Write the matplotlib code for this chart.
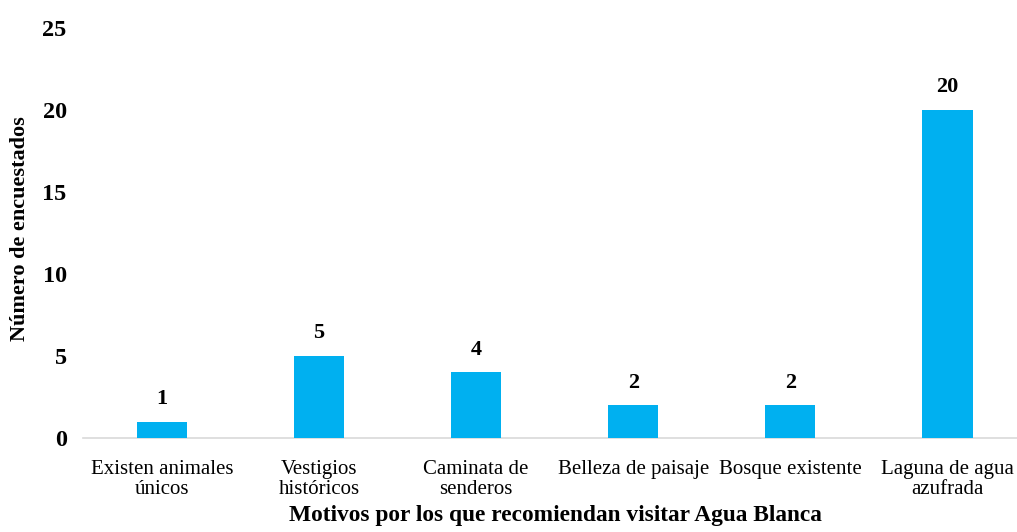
import matplotlib
matplotlib.use("Agg")
import matplotlib.pyplot as plt

categories = ["Existen animales\núnicos", "Vestigios\nhistóricos", "Caminata de\nsenderos",
              "Belleza de paisaje", "Bosque existente", "Laguna de agua\nazufrada"]
values = [1, 5, 4, 2, 2, 20]
yticks = [0, 5, 10, 15, 20, 25]

plt.rcParams['font.family'] = ['Liberation Serif', 'DejaVu Serif']

fig = plt.figure(figsize=(10.17, 5.32), dpi=100)
ax = fig.add_axes([83.4/1017, 94/532, 942.6/1017, 410/532])

x = list(range(len(categories)))
ax.bar(x, values, width=0.32, color='#00B0F0', zorder=3)
ax.set_xlim(-0.5, 5.5)
ax.set_ylim(0, 25)
ax.set_yticks(yticks)
ax.set_yticklabels([str(t) for t in yticks], fontweight='bold', fontsize=17.5)
ax.set_xticks(x)
ax.set_xticklabels(categories, fontsize=15, linespacing=1.05)
ax.tick_params(axis='both', length=0)
ax.tick_params(axis='y', pad=12)
ax.tick_params(axis='x', pad=16)

for s in ['top', 'right', 'left']:
    ax.spines[s].set_visible(False)
ax.spines['bottom'].set_color('#d9d9d9')
ax.spines['bottom'].set_linewidth(1.2)

for xi, v in zip(x, values):
    ax.annotate(str(v), (xi, v), xytext=(0, 9), textcoords='offset points',
                ha='center', va='bottom', fontweight='bold', fontsize=16)

ax.set_ylabel("Número de encuestados", fontweight='bold', fontsize=16, va='center')
ax.set_xlabel("Motivos por los que recomiendan visitar Agua Blanca", fontweight='bold', fontsize=16.8, va='center')
ax.xaxis.set_label_coords((555 - 83.4) / 942.6, -(516 - 438) / 410, transform=ax.transAxes)
ax.yaxis.set_label_coords(-(83.4 - 20) / 942.6, (438 - 229) / 410, transform=ax.transAxes)

fig.savefig("out.png", dpi=100)
